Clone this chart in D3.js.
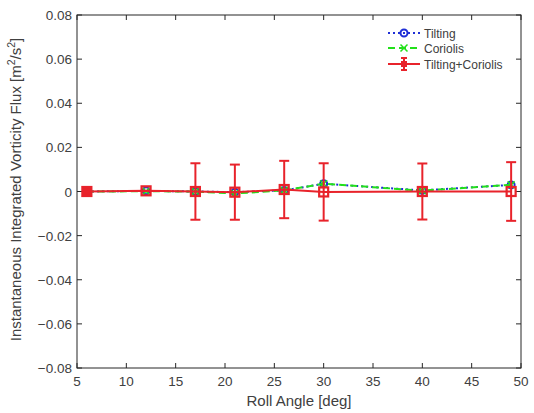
<!DOCTYPE html>
<html><head><meta charset="utf-8">
<script src="https://cdn.jsdelivr.net/npm/d3@7"></script>
<style>body{margin:0;background:#fff;} text{font-family:"Liberation Sans",Arial,sans-serif;}</style>
</head><body>
<svg id="c" width="534" height="413"></svg>
<script>
const rollAngles = [6, 12, 17, 21, 26, 30, 40, 49];
const tilting = [0, 0.0003, 0, -0.0003, 0.0005, 0.0035, 0.0005, 0.003];
const coriolis = [0, 0.0001, 0, -0.0009, 0.0005, 0.0035, 0.0004, 0.003];
const combined = [0, 0.0003, 0, -0.0003, 0.0009, -0.0002, 0, 0];
const combinedErr = [0, 0, 0.0128, 0.0125, 0.013, 0.013, 0.0127, 0.0133];
const xTicks = [5,10,15,20,25,30,35,40,45,50];
const yTicks = [-0.08,-0.06,-0.04,-0.02,0,0.02,0.04,0.06,0.08];
const seriesNames = ["Tilting","Coriolis","Tilting+Coriolis"];

const svg = d3.select("#c");
const L=77,R=521,T=15,B=368;
const x = d3.scaleLinear().domain([5,50]).range([L,R]);
const y = d3.scaleLinear().domain([-0.08,0.08]).range([B,T]);
const txt="#404040", ax="#262626";

svg.append("rect").attr("x",L).attr("y",T).attr("width",R-L).attr("height",B-T)
  .attr("fill","none").attr("stroke",ax).attr("stroke-width",1);
const tl=5;
xTicks.forEach(v=>{
  const px=x(v);
  svg.append("line").attr("x1",px).attr("x2",px).attr("y1",B).attr("y2",B-tl).attr("stroke",ax);
  svg.append("line").attr("x1",px).attr("x2",px).attr("y1",T).attr("y2",T+tl).attr("stroke",ax);
  svg.append("text").attr("x",px).attr("y",B+18).attr("text-anchor","middle").attr("font-size",13.5).attr("fill",txt).text(v);
});
yTicks.forEach(v=>{
  const py=y(v);
  svg.append("line").attr("x1",L).attr("x2",L+tl).attr("y1",py).attr("y2",py).attr("stroke",ax);
  svg.append("line").attr("x1",R).attr("x2",R-tl).attr("y1",py).attr("y2",py).attr("stroke",ax);
  svg.append("text").attr("x",L-5).attr("y",py+5).attr("text-anchor","end").attr("font-size",13.5).attr("fill",txt)
    .text(v===0?"0":d3.format(".2f")(v));
});
svg.append("text").attr("x",(L+R)/2).attr("y",406).attr("text-anchor","middle").attr("font-size",15).attr("fill",txt).text("Roll Angle [deg]");
const yl=svg.append("text").attr("transform",`translate(21,${(T+B)/2-2}) rotate(-90)`).attr("text-anchor","middle").attr("font-size",15).attr("fill",txt);
yl.append("tspan").text("Instantaneous Integrated Vorticity Flux [m");
yl.append("tspan").attr("dy",-6).attr("font-size",10.5).text("2");
yl.append("tspan").attr("dy",6).text("/s");
yl.append("tspan").attr("dy",-6).attr("font-size",10.5).text("2");
yl.append("tspan").attr("dy",6).text("]");

const line = d3.line().x((d,i)=>x(rollAngles[i])).y(d=>y(d));
const red="#e8232b", blue="#1f2fd6", green="#22e01a";

const g1=svg.append("g");
g1.append("path").attr("d",line(tilting)).attr("fill","none").attr("stroke",blue).attr("stroke-width",2).attr("stroke-dasharray","2,3");
tilting.forEach((v,i)=>g1.append("circle").attr("cx",x(rollAngles[i])).attr("cy",y(v)).attr("r",3.5).attr("fill","none").attr("stroke",blue).attr("stroke-width",2));
const g2=svg.append("g");
g2.append("path").attr("d",line(coriolis)).attr("fill","none").attr("stroke",green).attr("stroke-width",2).attr("stroke-dasharray","7,4");
coriolis.forEach((v,i)=>{const cx=x(rollAngles[i]),cy=y(v),s=3.5;
  g2.append("path").attr("d",`M${cx-s},${cy-s}L${cx+s},${cy+s}M${cx-s},${cy+s}L${cx+s},${cy-s}`).attr("stroke",green).attr("stroke-width",1.5);});
const g3=svg.append("g");
g3.append("path").attr("d",line(combined)).attr("fill","none").attr("stroke",red).attr("stroke-width",2);
combined.forEach((v,i)=>{
  const cx=x(rollAngles[i]);const e=combinedErr[i];
  if(e>0){
    g3.append("line").attr("x1",cx).attr("x2",cx).attr("y1",y(v+e)).attr("y2",y(v-e)).attr("stroke",red).attr("stroke-width",2);
    [v+e,v-e].forEach(w=>g3.append("line").attr("x1",cx-5).attr("x2",cx+5).attr("y1",y(w)).attr("y2",y(w)).attr("stroke",red).attr("stroke-width",2));
  }
  g3.append("rect").attr("x",cx-4.5).attr("y",y(v)-4.5).attr("width",9).attr("height",9)
    .attr("fill",i===0?red:"none").attr("stroke",red).attr("stroke-width",2.2);
});

const lg=svg.append("g");
const ly=[33,48,64], lx1=388, lx2=420;
lg.append("line").attr("x1",lx1).attr("x2",lx2).attr("y1",ly[0]).attr("y2",ly[0]).attr("stroke",blue).attr("stroke-width",2).attr("stroke-dasharray","2,3");
lg.append("circle").attr("cx",(lx1+lx2)/2).attr("cy",ly[0]).attr("r",3.5).attr("fill","none").attr("stroke",blue).attr("stroke-width",2);
lg.append("line").attr("x1",lx1).attr("x2",lx2).attr("y1",ly[1]).attr("y2",ly[1]).attr("stroke",green).attr("stroke-width",2).attr("stroke-dasharray","7,4");
{const cx=(lx1+lx2)/2,cy=ly[1],s=3.5;lg.append("path").attr("d",`M${cx-s},${cy-s}L${cx+s},${cy+s}M${cx-s},${cy+s}L${cx+s},${cy-s}`).attr("stroke",green).attr("stroke-width",1.5);}
lg.append("line").attr("x1",lx1).attr("x2",lx2).attr("y1",ly[2]).attr("y2",ly[2]).attr("stroke",red).attr("stroke-width",2);
{const cx=(lx1+lx2)/2;
lg.append("line").attr("x1",cx).attr("x2",cx).attr("y1",ly[2]-6).attr("y2",ly[2]+6).attr("stroke",red).attr("stroke-width",2);
[ly[2]-6,ly[2]+6].forEach(w=>lg.append("line").attr("x1",cx-3).attr("x2",cx+3).attr("y1",w).attr("y2",w).attr("stroke",red).attr("stroke-width",2));
lg.append("rect").attr("x",cx-2.5).attr("y",ly[2]-2.5).attr("width",5).attr("height",5).attr("fill",red).attr("stroke",red);}
seriesNames.forEach((n,i)=>lg.append("text").attr("x",424).attr("y",ly[i]+4.5).attr("font-size",12).attr("fill",txt).text(n));
</script>
</body></html>
